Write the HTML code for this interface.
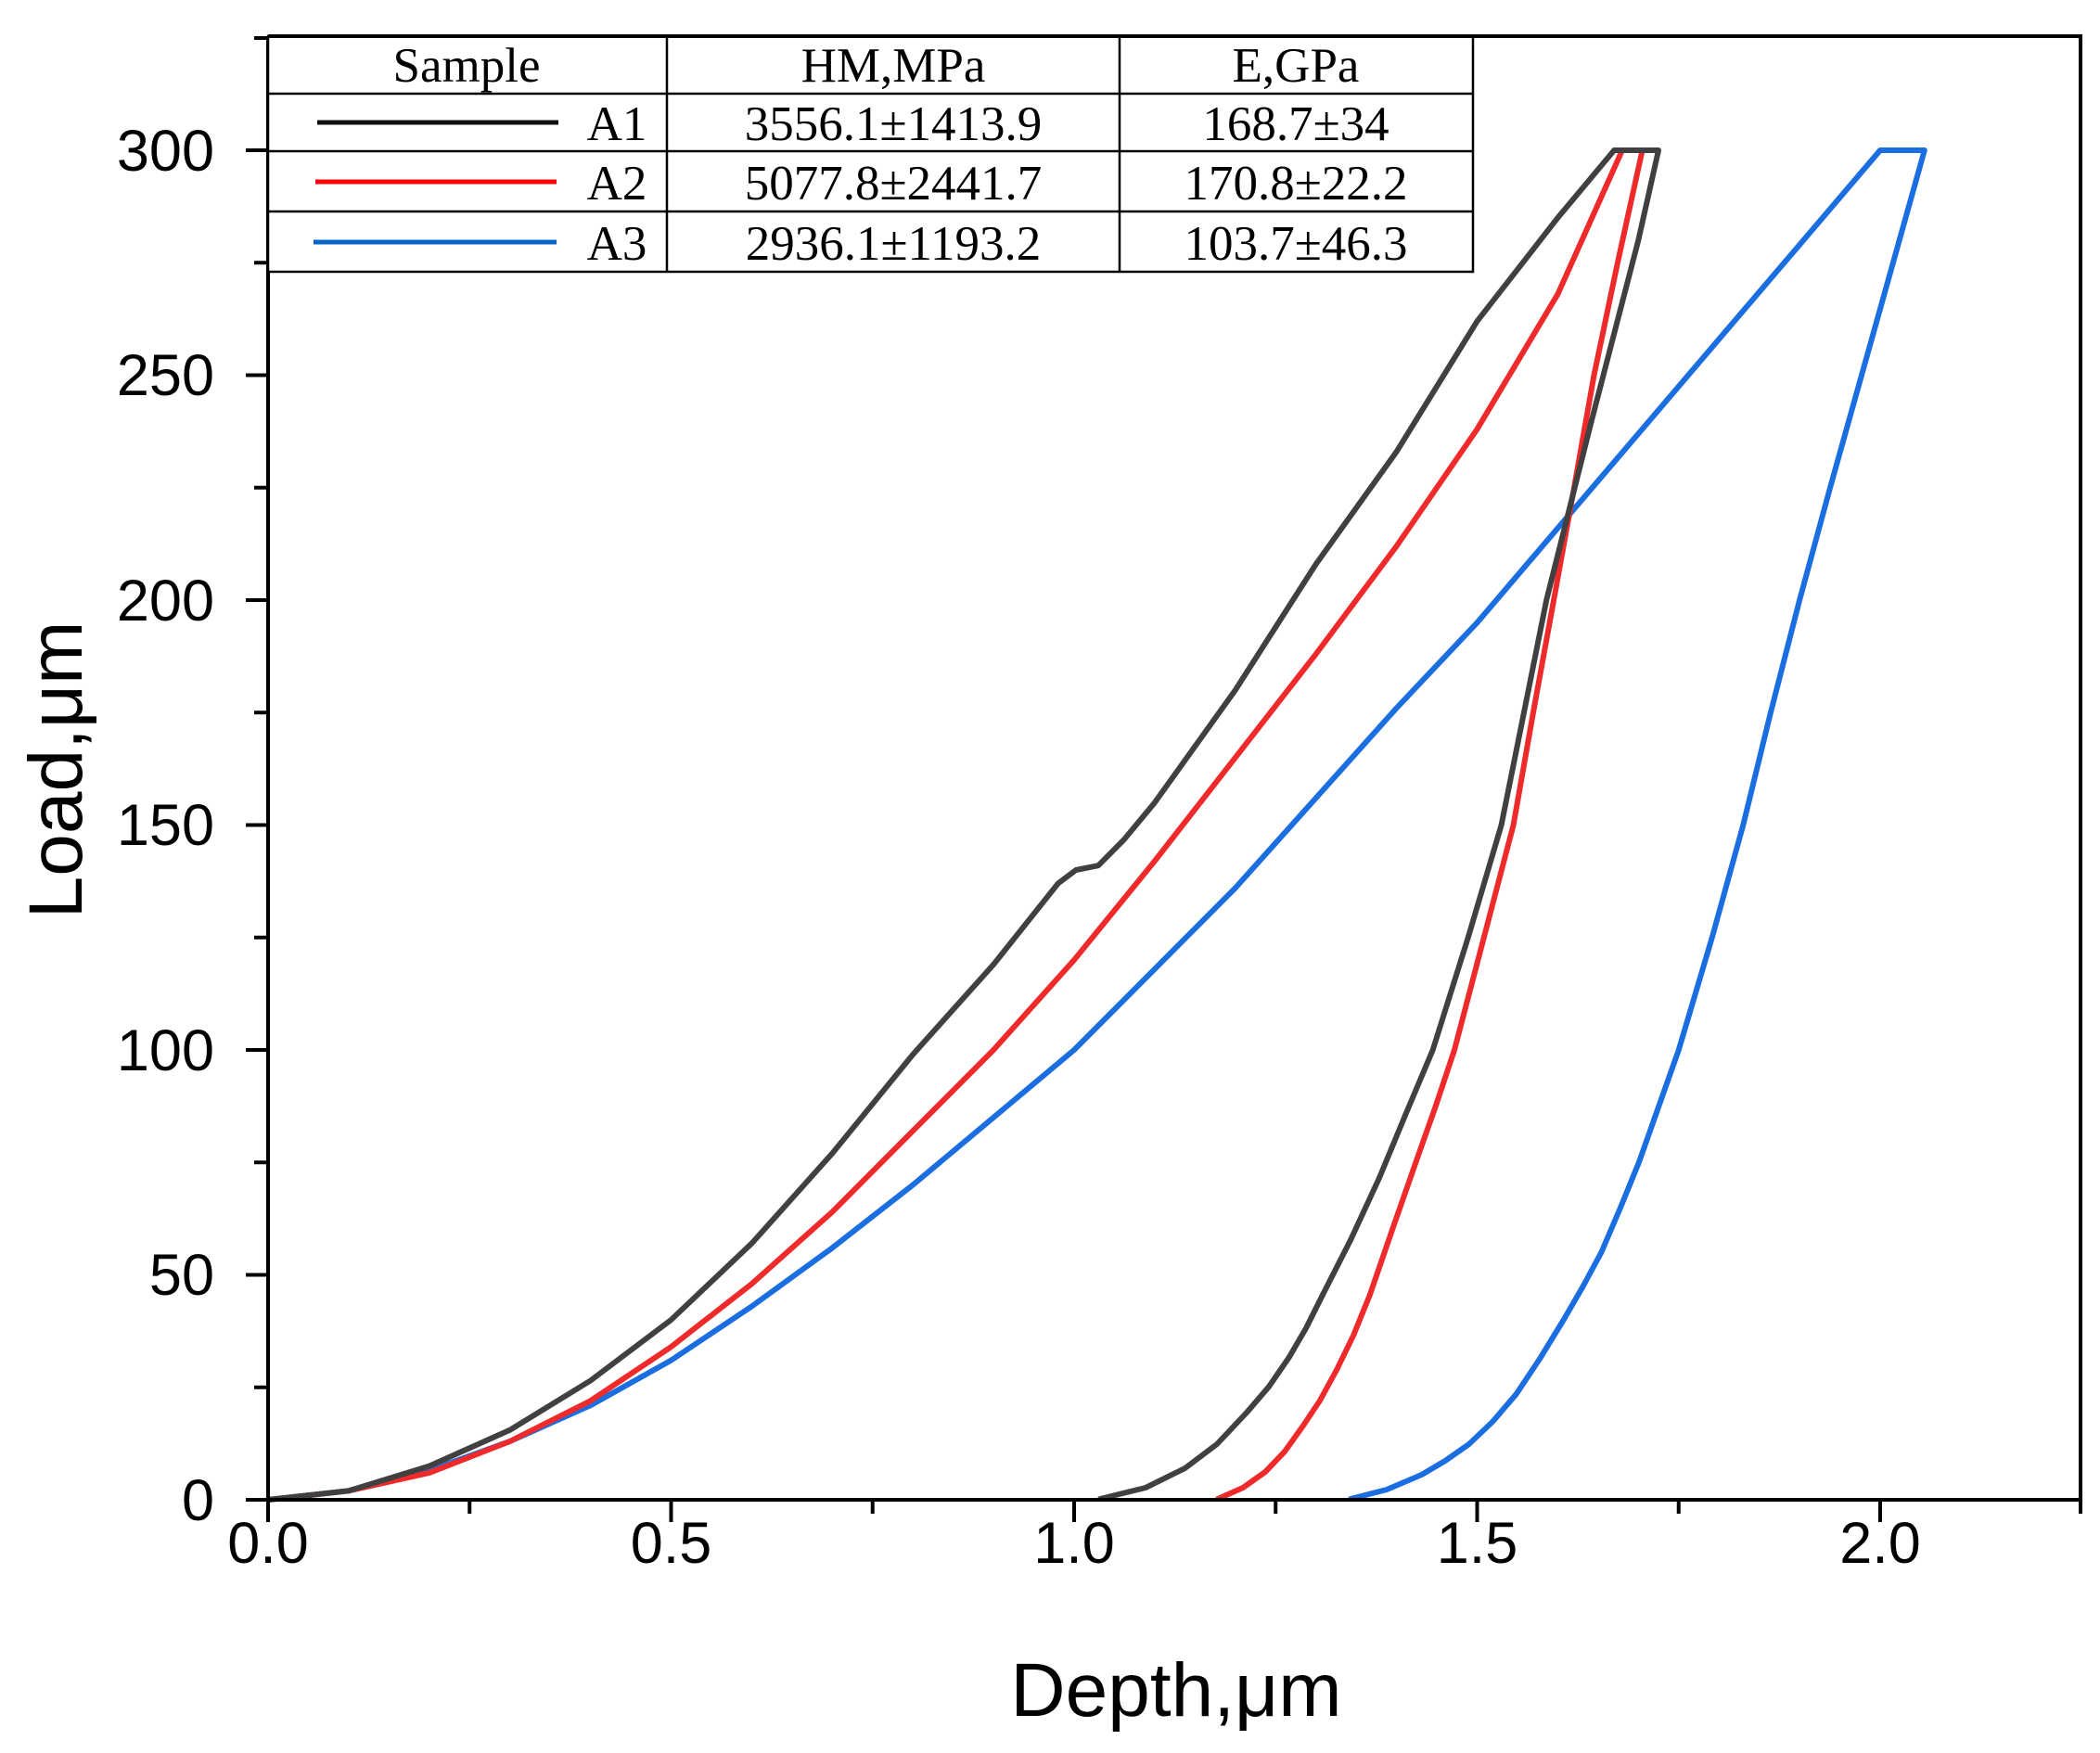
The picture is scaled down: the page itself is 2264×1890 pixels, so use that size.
<!DOCTYPE html>
<html><head><meta charset="utf-8"><style>
html,body{margin:0;padding:0;background:#fff;}
svg{display:block;}
</style></head><body>
<svg width="2264" height="1890" xmlns="http://www.w3.org/2000/svg">
<rect width="2264" height="1890" fill="#fff"/>
<g fill="none" stroke-width="6" stroke-linejoin="round" stroke-linecap="round">
<polyline stroke="#1a6ee0" points="289,1617 375.9,1607.3 462.8,1585.5 549.7,1554 636.6,1515.2 723.5,1466.6 810.4,1408.5 897.3,1345.4 984.2,1277.5 1071.1,1204.8 1158,1132 1244.9,1044.7 1331.8,957.4 1418.7,860.4 1505.6,763.4 1592.5,671.3 1679.4,569.4 1766.3,467.6 1853.2,365.7 1940.1,263.9 2027,162 2074.8,162 2041,283 2007,404.5 1973,526 1940.1,647 1909,768 1879.3,889.5 1846,1010 1809.8,1132 1767,1253 1747,1302 1726.5,1350 1706,1388 1685.7,1423 1660,1465 1634.7,1503 1609,1533 1583.7,1557 1558,1575 1532.6,1590 1495,1606 1456,1616"/>
<polyline stroke="#ee2a2a" points="289,1617 375.9,1607.3 462.8,1587.9 549.7,1554 636.6,1510.3 723.5,1452.1 810.4,1384.2 897.3,1306.6 984.2,1219.3 1071.1,1132 1158,1035 1244.9,928.3 1331.8,816.8 1418.7,705.2 1505.6,588.8 1592.5,462.7 1679.4,317.2 1748.9,162 1770.6,162 1744,283 1718.5,404.5 1697,526 1675.1,647 1653,768 1631.6,889.5 1600,1010 1568,1132 1548,1192 1527.5,1250 1502,1323 1476.5,1397 1459,1440 1441,1477 1423,1510 1405,1537 1385,1565 1364,1587 1340,1604 1313,1616"/>
<polyline stroke="#404040" points="289,1617 375.9,1607.3 462.8,1580.6 549.7,1541.8 636.6,1488.5 723.5,1423 810.4,1340.6 897.3,1243.5 984.2,1136.9 1071.1,1039.9 1140.6,952.6 1160,938 1184.1,933.2 1212,905 1244.9,865.3 1331.8,744 1418.7,608.2 1505.6,487 1592.5,346.3 1679.4,234.8 1740.2,162 1788,162 1766.3,259 1716,453 1667.2,647 1643,768 1618.6,889.5 1583,1010 1544.7,1132 1516,1200 1487,1270 1456,1337 1425.5,1397 1408,1432 1390,1463 1368,1495 1344,1523 1312,1557 1277.5,1583 1235,1604 1186,1616"/>
</g>
<g stroke="#000" stroke-width="4" fill="none">
<line x1="289" y1="39" x2="289" y2="1619"/>
<line x1="287" y1="1617" x2="2245" y2="1617"/>
<line x1="2243" y1="39" x2="2243" y2="1632"/>
<line x1="289" y1="39" x2="2245" y2="39"/>
<line x1="289" y1="1617" x2="265" y2="1617"/><line x1="289" y1="1374.5" x2="265" y2="1374.5"/><line x1="289" y1="1132" x2="265" y2="1132"/><line x1="289" y1="889.5" x2="265" y2="889.5"/><line x1="289" y1="647" x2="265" y2="647"/><line x1="289" y1="404.5" x2="265" y2="404.5"/><line x1="289" y1="162" x2="265" y2="162"/>
<line x1="289" y1="1495.75" x2="274" y2="1495.75"/><line x1="289" y1="1253.25" x2="274" y2="1253.25"/><line x1="289" y1="1010.75" x2="274" y2="1010.75"/><line x1="289" y1="768.25" x2="274" y2="768.25"/><line x1="289" y1="525.75" x2="274" y2="525.75"/><line x1="289" y1="283.25" x2="274" y2="283.25"/><line x1="289" y1="41" x2="274" y2="41"/>
<line x1="289" y1="1617" x2="289" y2="1641"/><line x1="723.5" y1="1617" x2="723.5" y2="1641"/><line x1="1158" y1="1617" x2="1158" y2="1641"/><line x1="1592.5" y1="1617" x2="1592.5" y2="1641"/><line x1="2027" y1="1617" x2="2027" y2="1641"/>
<line x1="506.25" y1="1617" x2="506.25" y2="1632"/><line x1="940.75" y1="1617" x2="940.75" y2="1632"/><line x1="1375.25" y1="1617" x2="1375.25" y2="1632"/><line x1="1809.75" y1="1617" x2="1809.75" y2="1632"/>
</g>
<g font-family="Liberation Sans, sans-serif" font-size="63" fill="#000" text-anchor="end">
<text x="231" y="1639">0</text><text x="231" y="1396">50</text><text x="231" y="1154">100</text><text x="231" y="911">150</text><text x="231" y="669">200</text><text x="231" y="426">250</text><text x="231" y="184">300</text>
</g>
<g font-family="Liberation Sans, sans-serif" font-size="63" fill="#000" text-anchor="middle">
<text x="289" y="1685">0.0</text><text x="723.5" y="1685">0.5</text><text x="1158" y="1685">1.0</text><text x="1592.5" y="1685">1.5</text><text x="2027" y="1685">2.0</text>
</g>
<text x="1268" y="1850" font-family="Liberation Sans, sans-serif" font-size="82" text-anchor="middle">Depth,μm</text>
<text transform="translate(88,830) rotate(-90)" font-family="Liberation Sans, sans-serif" font-size="82" text-anchor="middle">Load,μm</text>
<g stroke="#000" stroke-width="2.5" fill="none">
<rect x="289" y="39" width="1299" height="254" fill="#fff"/>
<line x1="289" y1="101" x2="1588" y2="101"/>
<line x1="289" y1="163" x2="1588" y2="163"/>
<line x1="289" y1="228" x2="1588" y2="228"/>
<line x1="719" y1="39" x2="719" y2="293"/>
<line x1="1207" y1="39" x2="1207" y2="293"/>
</g>
<line x1="289" y1="39" x2="1588" y2="39" stroke="#000" stroke-width="4"/>
<g stroke-width="5">
<line x1="342" y1="132" x2="602" y2="132" stroke="#111"/>
<line x1="340" y1="196" x2="600" y2="196" stroke="#ff0000"/>
<line x1="338" y1="261" x2="600" y2="261" stroke="#0a64c8"/>
</g>
<g font-family="Liberation Serif, serif" font-size="53" fill="#000" text-anchor="middle">
<text x="503" y="88">Sample</text>
<text x="963" y="88">HM,MPa</text>
<text x="1397" y="88">E,GPa</text>
<text x="665" y="151">A1</text>
<text x="665" y="215">A2</text>
<text x="665" y="280">A3</text>
<text x="963" y="151">3556.1±1413.9</text>
<text x="963" y="215">5077.8±2441.7</text>
<text x="963" y="280">2936.1±1193.2</text>
<text x="1397" y="151">168.7±34</text>
<text x="1397" y="215">170.8±22.2</text>
<text x="1397" y="280">103.7±46.3</text>
</g>
</svg>
</body></html>
